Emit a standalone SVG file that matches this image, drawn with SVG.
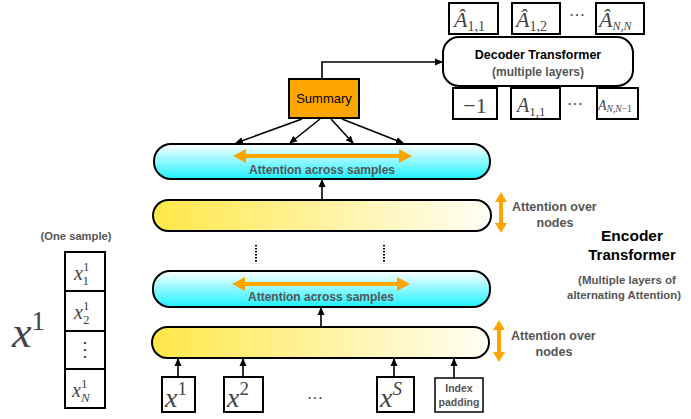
<svg xmlns="http://www.w3.org/2000/svg" width="691" height="419" viewBox="0 0 691 419">
<defs>
<linearGradient id="cyan" x1="0" y1="0" x2="0" y2="1">
<stop offset="0" stop-color="#FFFFFF"/>
<stop offset="1" stop-color="#1CF2FF"/>
</linearGradient>
<linearGradient id="yellow" x1="0" y1="0" x2="1" y2="0">
<stop offset="0" stop-color="#FFE748"/>
<stop offset="1" stop-color="#FFFEF6"/>
</linearGradient>
<marker id="ah" markerWidth="8" markerHeight="8" refX="7" refY="4" orient="auto" markerUnits="userSpaceOnUse">
<path d="M0,0.5 L8,4 L0,7.5 Z" fill="#000"/>
</marker>
<style>
.box{fill:#fff;stroke:#000;stroke-width:2}
.lay{stroke:#000;stroke-width:2}
.conn{stroke:#000;stroke-width:1.6;fill:none;marker-end:url(#ah)}
.lbl{font-family:"Liberation Sans",Arial,sans-serif;font-weight:bold;fill:#555}
.blk{font-family:"Liberation Sans",Arial,sans-serif;font-weight:bold;fill:#000}
.m{font-family:"Liberation Serif","Times New Roman",serif;fill:#444}
.mi{font-style:italic}
.orange{fill:#FFA500}
</style>
</defs>

<g id="decoder">
<rect x="443" y="37" width="190" height="49" rx="16" class="box"/>
<text x="538" y="59" text-anchor="middle" class="blk" font-size="12.5">Decoder Transformer</text>
<text x="538" y="76" text-anchor="middle" class="lbl" font-size="12">(multiple layers)</text>
</g>

<g id="outputs">
<rect x="449" y="3" width="49" height="31" class="box"/>
<text x="454" y="27" class="m" font-size="22"><tspan class="mi">Â</tspan><tspan font-size="14" dy="4">1,1</tspan></text>
<rect x="512" y="3" width="48" height="31" class="box"/>
<text x="516" y="27" class="m" font-size="22"><tspan class="mi">Â</tspan><tspan font-size="14" dy="4">1,2</tspan></text>
<text x="577" y="21" text-anchor="middle" class="m" font-size="16">···</text>
<rect x="596" y="3" width="48" height="31" class="box"/>
<text x="599" y="27" class="m" font-size="22"><tspan class="mi">Â</tspan><tspan font-size="12" dy="3" class="mi">N,N</tspan></text>
</g>

<g id="inputs-dec">
<rect x="453" y="88" width="44" height="31" class="box"/>
<text x="475" y="113" text-anchor="middle" class="m" font-size="22">−1</text>
<rect x="511" y="88" width="49" height="31" class="box"/>
<text x="517" y="112" class="m" font-size="20"><tspan class="mi">A</tspan><tspan font-size="13" dy="4">1,1</tspan></text>
<text x="575" y="110" text-anchor="middle" class="m" font-size="16">···</text>
<rect x="597" y="88" width="41" height="31" class="box"/>
<text x="598" y="110" class="m" font-size="14"><tspan class="mi">A</tspan><tspan font-size="9.5" dy="2"><tspan class="mi">N,N</tspan>−1</tspan></text>
</g>

<g id="summary">
<rect x="289" y="79" width="70" height="39" fill="#FFA500" stroke="#000" stroke-width="2"/>
<text x="324" y="103" text-anchor="middle" font-family="Liberation Sans,Arial,sans-serif" font-size="13" fill="#000">Summary</text>
</g>

<g id="cross1">
<rect x="154" y="144" width="336" height="35" rx="17" fill="url(#cyan)" class="lay"/>
<polygon class="orange" points="233,156 246,149 246,154 399,154 399,149 412,156 399,163 399,158 246,158 246,163"/>
<text x="322" y="174" text-anchor="middle" class="lbl" font-size="12">Attention across samples</text>
</g>

<g id="nodes1">
<rect x="153" y="200" width="338" height="31" rx="15.5" fill="url(#yellow)" class="lay"/>
</g>

<g id="cross2">
<rect x="153" y="271" width="337" height="36" rx="17" fill="url(#cyan)" class="lay"/>
<polygon class="orange" points="232,284 245,277 245,282 397,282 397,277 410,284 397,291 397,286 245,286 245,291"/>
<text x="321" y="301" text-anchor="middle" class="lbl" font-size="12">Attention across samples</text>
</g>

<g id="nodes2">
<rect x="152" y="327" width="337" height="31" rx="15.5" fill="url(#yellow)" class="lay"/>
</g>

<g id="vdots">
<line x1="256" y1="245" x2="256" y2="263" stroke="#000" stroke-width="2" stroke-dasharray="1.5,1.5"/>
<line x1="384" y1="245" x2="384" y2="263" stroke="#000" stroke-width="2" stroke-dasharray="1.5,1.5"/>
</g>

<g id="x1">
<rect x="162" y="377" width="33" height="35" class="box"/>
<text x="165" y="407" class="m" font-size="28"><tspan class="mi">x</tspan><tspan font-size="19" dy="-12">1</tspan></text>
</g>
<g id="x2">
<rect x="224" y="377" width="39" height="35" class="box"/>
<text x="227" y="407" class="m" font-size="28"><tspan class="mi">x</tspan><tspan font-size="19" dy="-12">2</tspan></text>
</g>
<text x="315" y="404" text-anchor="middle" class="m" font-size="16">···</text>
<g id="xS">
<rect x="377" y="377" width="37" height="35" class="box"/>
<text x="380" y="407" class="m" font-size="28"><tspan class="mi">x</tspan><tspan class="mi" font-size="19" dy="-12">S</tspan></text>
</g>
<g id="padding">
<rect x="435" y="378" width="48" height="34" fill="#fff" stroke="#000" stroke-width="1.5"/>
<text x="459" y="392" text-anchor="middle" class="lbl" font-size="10.5">Index</text>
<text x="459" y="406" text-anchor="middle" class="lbl" font-size="10.5">padding</text>
</g>

<g id="connectors">
<polyline class="conn" points="322,79 322,62 442,62"/>
<line class="conn" x1="302" y1="119" x2="236" y2="143"/>
<line class="conn" x1="320" y1="119" x2="290" y2="143"/>
<line class="conn" x1="331" y1="119" x2="353" y2="143"/>
<line class="conn" x1="342" y1="119" x2="403" y2="143"/>
<line class="conn" x1="322" y1="199" x2="322" y2="180"/>
<line class="conn" x1="321" y1="326" x2="321" y2="308"/>
<line class="conn" x1="178" y1="377" x2="178" y2="359"/>
<line class="conn" x1="243" y1="377" x2="243" y2="359"/>
<line class="conn" x1="394" y1="377" x2="394" y2="359"/>
<line class="conn" x1="454" y1="378" x2="454" y2="359"/>
</g>

<g id="node-attn1">
<polygon class="orange" points="501,192 507,202 503,202 503,223 507,223 501,233 495,223 499,223 499,202 495,202"/>
<text x="512" y="211" class="lbl" font-size="12.5">Attention over</text>
<text x="555" y="227" text-anchor="middle" class="lbl" font-size="12.5">nodes</text>
</g>
<g id="node-attn2">
<polygon class="orange" points="499,320 505,330 501,330 501,352 505,352 499,362 493,352 497,352 497,330 493,330"/>
<text x="511" y="340" class="lbl" font-size="12.5">Attention over</text>
<text x="554" y="356" text-anchor="middle" class="lbl" font-size="12.5">nodes</text>
</g>

<g id="encoder-label">
<text x="632" y="241" text-anchor="middle" class="blk" font-size="15.5">Encoder</text>
<text x="632" y="260" text-anchor="middle" class="blk" font-size="15">Transformer</text>
<text x="627" y="284" text-anchor="middle" class="lbl" font-size="11.5">(Multiple layers of</text>
<text x="624" y="299" text-anchor="middle" class="lbl" font-size="11.3">alternating Attention)</text>
</g>

<g id="sample">
<text x="76" y="240" text-anchor="middle" class="lbl" font-size="11.2">(One sample)</text>
<rect x="65" y="252" width="40" height="39" class="box"/>
<rect x="65" y="291" width="40" height="40" class="box"/>
<rect x="65" y="331" width="40" height="38" class="box"/>
<rect x="65" y="369" width="40" height="39" class="box"/>
<text x="74" y="280" class="m" font-size="20"><tspan class="mi">x</tspan><tspan font-size="13" dy="-9">1</tspan><tspan font-size="13" dx="-6.5" dy="14">1</tspan></text>
<text x="74" y="319" class="m" font-size="20"><tspan class="mi">x</tspan><tspan font-size="13" dy="-9">1</tspan><tspan font-size="13" dx="-6.5" dy="14">2</tspan></text>
<text x="85" y="356" text-anchor="middle" class="m" font-size="20">⋮</text>
<text x="72" y="397" class="m" font-size="20"><tspan class="mi">x</tspan><tspan font-size="13" dy="-9">1</tspan><tspan class="mi" font-size="13" dx="-6.5" dy="14">N</tspan></text>
<text x="12" y="347" class="m" font-size="44"><tspan class="mi">x</tspan><tspan font-size="27" dy="-17">1</tspan></text>
</g>
</svg>
